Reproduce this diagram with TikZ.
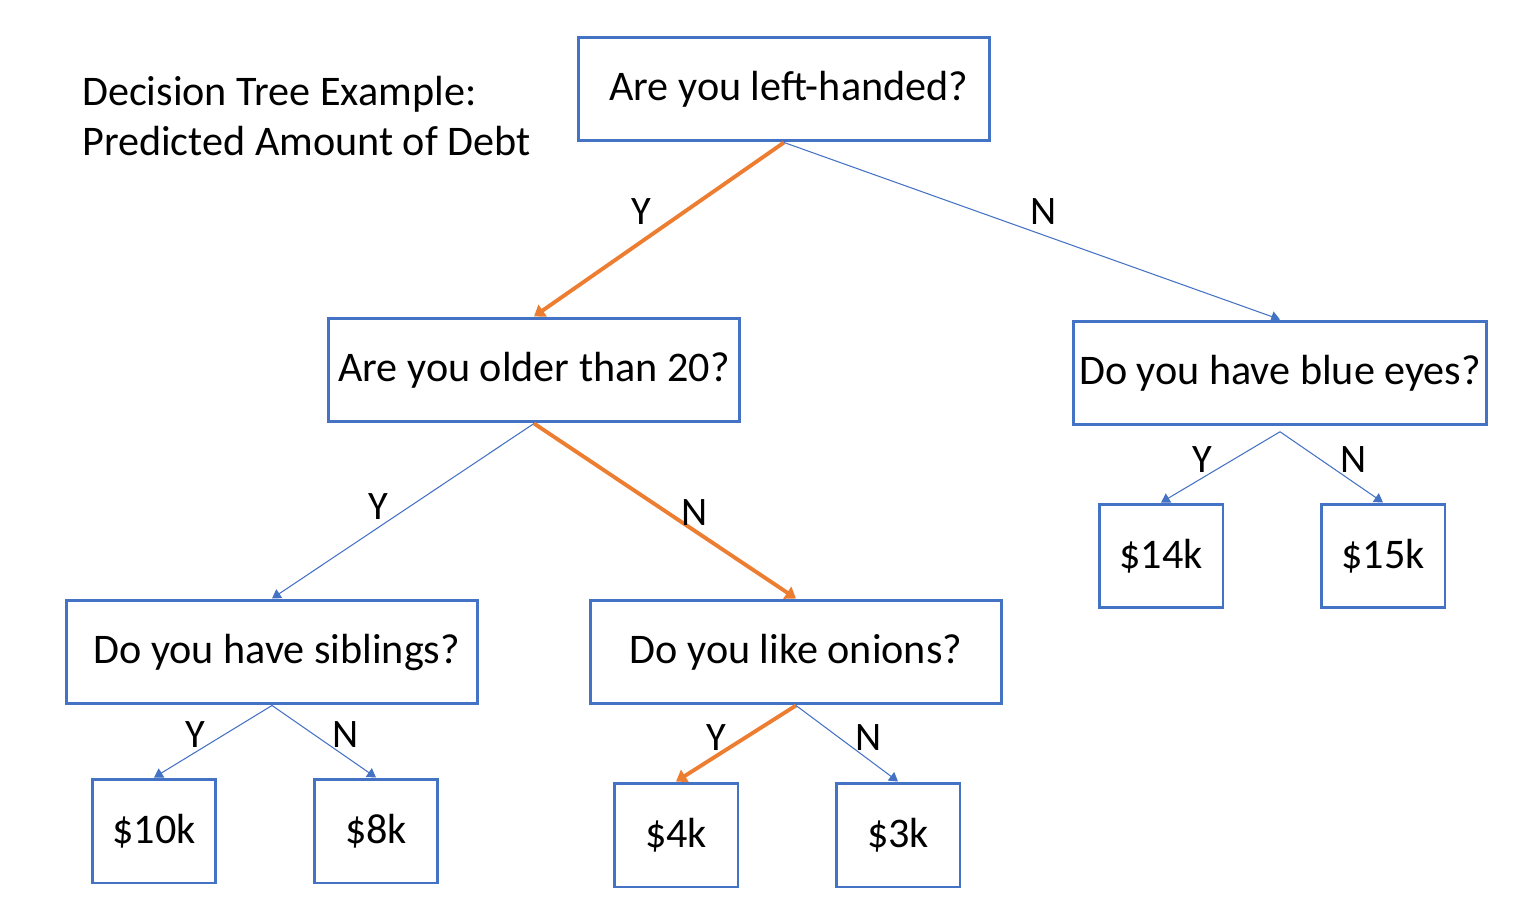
\documentclass[tikz,border=0pt]{standalone}
\usepackage{fontspec}
\setmainfont{Carlito}
\usetikzlibrary{arrows.meta}
\definecolor{boxblue}{RGB}{68,114,196}
\definecolor{pathorange}{RGB}{237,125,49}
\tikzset{
  question/.style={draw=boxblue,line width=1.7pt,minimum width=8.24cm,minimum height=2.08cm,font=\fontsize{24}{28}\selectfont},
  leaf/.style={draw=boxblue,line width=1.7pt,minimum width=2.48cm,minimum height=2.08cm,font=\fontsize{24}{28}\selectfont},
  branch/.style={draw=boxblue,line width=0.6pt,-{Triangle[length=5pt,width=6pt]}},
  chosen/.style={draw=pathorange,line width=2.2pt,-{Triangle[length=6pt,width=8pt]}},
  yn/.style={font=\fontsize{23}{27}\selectfont}
}
\begin{document}
\begin{tikzpicture}[x=0.02cm,y=-0.02cm]
   \useasboundingbox (0,0) rectangle (1522,912);
   % title
   \node[anchor=west,align=left,font=\fontsize{24}{28.5}\selectfont] (title) at (76,116)
     {Decision Tree Example:\\Predicted Amount of Debt};
   % questions
   \node[question] (left) at (784,89) {\ Are you left-handed?};
   \node[question] (older) at (534,370) {Are you older than 20?};
   \node[question] (blue) at (1280,373) {Do you have blue eyes?};
   \node[question] (sib) at (272,652) {\ Do you have siblings?};
   \node[question] (onion) at (796,652) {Do you like onions?};
   % leaves
   \node[leaf] (k10) at (154,831) {\$10k};
   \node[leaf] (k8) at (376,831) {\$8k};
   \node[leaf] (k4) at (676,835) {\$4k};
   \node[leaf] (k3) at (898,835) {\$3k};
   \node[leaf] (k14) at (1161,556) {\$14k};
   \node[leaf] (k15) at (1383,556) {\$15k};
   % branches
   \draw[chosen] (left.south) -- (older.north);
   \draw[branch] (left.south) -- (blue.north);
   \draw[branch] (older.south) -- (sib.north);
   \draw[chosen] (older.south) -- (onion.north);
   \draw[branch] ([yshift=-3pt]blue.south) -- (k14.north);
   \draw[branch] ([yshift=-3pt]blue.south) -- (k15.north);
   \draw[branch] (sib.south) -- (k10.north);
   \draw[branch] (sib.south) -- (k8.north);
   \draw[chosen] (onion.south) -- (k4.north);
   \draw[branch] (onion.south) -- (k3.north);
   % labels
   \node[yn] (y1) at (641,212) {Y};
   \node[yn] (n1) at (1044,212) {N};
   \node[yn] (y2) at (378,507) {Y};
   \node[yn] (n2) at (695,513) {N};
   \node[yn] (y3) at (1202,460) {Y};
   \node[yn] (n3) at (1354,460) {N};
   \node[yn] (y4) at (195,735) {Y};
   \node[yn] (n4) at (346,735) {N};
   \node[yn] (y5) at (716,738) {Y};
   \node[yn] (n5) at (869,738) {N};
\end{tikzpicture}
\end{document}
